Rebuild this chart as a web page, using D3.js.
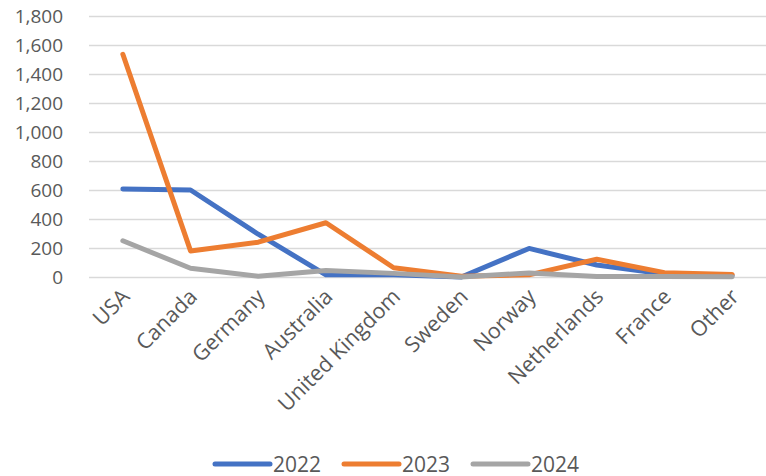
<!DOCTYPE html>
<html>
<head>
<meta charset="utf-8">
<script src="https://cdn.jsdelivr.net/npm/d3@7"></script>
<style>
  body { margin: 0; background: #fff; }
  svg text { font-family: "Open Sans", sans-serif; fill: #595959; }
</style>
</head>
<body>
<svg width="766" height="476"></svg>
<script>
const svg = d3.select('svg');

const countries = ['USA', 'Canada', 'Germany', 'Australia', 'United Kingdom',
                   'Sweden', 'Norway', 'Netherlands', 'France', 'Other'];
const years = ['2022', '2023', '2024'];
const values2022 = [607, 600, 295, 15, 15, 0, 197, 83, 20, 10];
const values2023 = [1536, 180, 240, 374, 64, 5, 15, 122, 30, 18];
const values2024 = [250, 60, 5, 45, 25, 0, 28, 3, 3, 2];
const yTicks = [0, 200, 400, 600, 800, 1000, 1200, 1400, 1600, 1800];
const colors = ['#4472C4', '#ED7D31', '#A5A5A5'];

const series = [values2022, values2023, values2024];

const margin = { top: 16, right: 0, bottom: 199, left: 89 };
const innerWidth = 766 - margin.left - margin.right;
const innerHeight = 476 - margin.top - margin.bottom;

const g = svg.append('g')
    .attr('transform', `translate(${margin.left},${margin.top})`);

const xScale = d3.scaleBand()
  .domain(countries)
  .range([0, innerWidth]);

const yScale = d3.scaleLinear()
  .domain([0, 1800])
  .range([innerHeight, 0]);

// gridlines + y labels
const yAxis = d3.axisLeft(yScale)
  .tickValues(yTicks)
  .tickSize(-innerWidth)
  .tickPadding(26)
  .tickFormat(d3.format(','));

const yAxisG = g.append('g').call(yAxis);
yAxisG.select('.domain').remove();
yAxisG.selectAll('line')
  .attr('stroke', '#d9d9d9')
  .attr('stroke-width', 1.5);
yAxisG.selectAll('text')
  .attr('font-size', 19)
  .attr('dy', '0.35em');

// x labels
const xAxisG = g.append('g')
  .attr('transform', `translate(0,${innerHeight})`)
  .call(d3.axisBottom(xScale).tickSize(0).tickPadding(0));
xAxisG.select('.domain').remove();
xAxisG.selectAll('text')
  .attr('font-size', 21.5)
  .attr('text-anchor', 'end')
  .attr('dy', 0)
  .attr('y', 0)
  .attr('transform', 'translate(8,21) rotate(-45)');

// lines
const line = d3.line()
  .x((d, i) => xScale(countries[i]) + xScale.bandwidth() / 2)
  .y(d => yScale(d));

g.selectAll('.series')
  .data(series)
  .enter().append('path')
    .attr('class', 'series')
    .attr('fill', 'none')
    .attr('stroke', (d, i) => colors[i])
    .attr('stroke-width', 5)
    .attr('stroke-linejoin', 'round')
    .attr('stroke-linecap', 'round')
    .attr('d', line);

// legend
const legendX = [215, 344, 473];
const legend = svg.append('g')
  .attr('transform', 'translate(0,464)');
const item = legend.selectAll('g')
  .data(years)
  .enter().append('g')
    .attr('transform', (d, i) => `translate(${legendX[i]},0)`);
item.append('line')
  .attr('x1', 0).attr('x2', 55)
  .attr('stroke', (d, i) => colors[i])
  .attr('stroke-width', 5)
  .attr('stroke-linecap', 'round');
item.append('text')
  .attr('x', 58)
  .attr('dy', '0.36em')
  .attr('font-size', 21)
  .text(d => d);
</script>
</body>
</html>
